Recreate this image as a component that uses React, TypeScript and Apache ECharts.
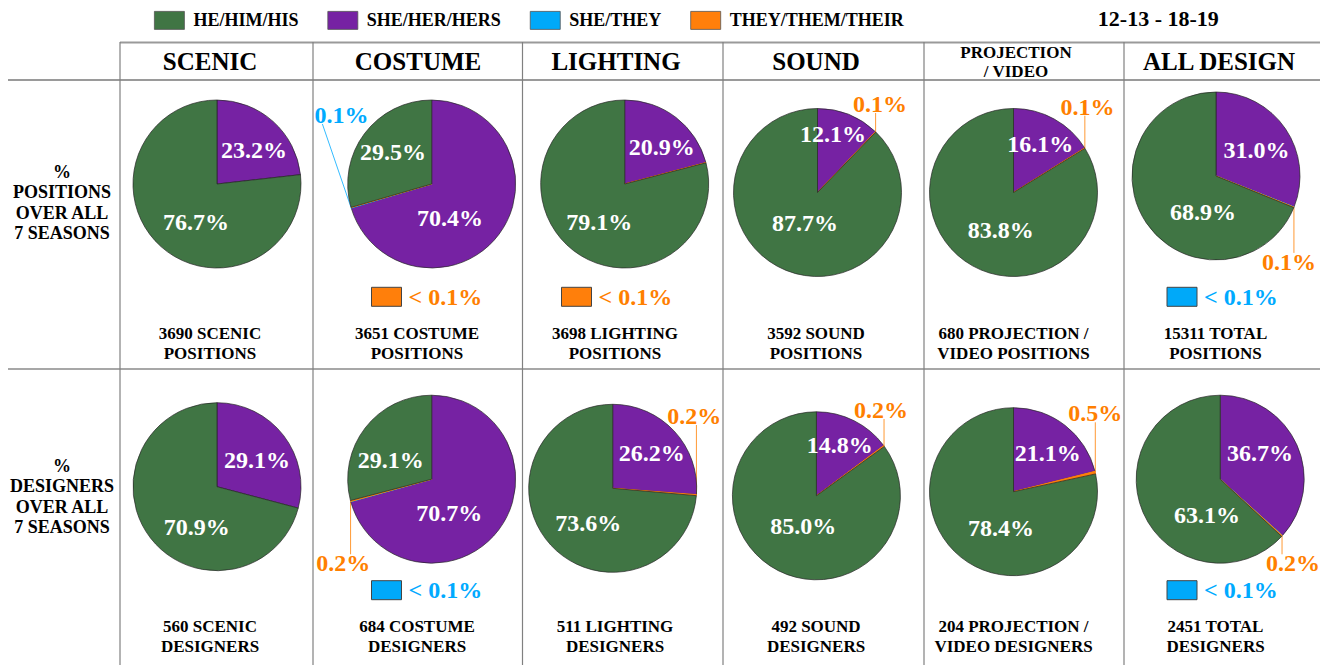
import React, { useEffect, useRef } from 'react';
import * as echarts from 'echarts';

// ---------- DATA ----------
const period = '12-13 - 18-19';
const columnTitles = ['SCENIC', 'COSTUME', 'LIGHTING', 'SOUND', 'PROJECTION\n/ VIDEO', 'ALL DESIGN'];
const rowTitles = ['%\nPOSITIONS\nOVER ALL\n7 SEASONS', '%\nDESIGNERS\nOVER ALL\n7 SEASONS'];
const legendNames = ['HE/HIM/HIS', 'SHE/HER/HERS', 'SHE/THEY', 'THEY/THEM/THEIR'];
// clockwise order of the slices, starting at 12 o'clock
const sliceOrder = ['SHE/HER/HERS', 'SHE/THEY', 'THEY/THEM/THEIR', 'HE/HIM/HIS'];

// % of positions over all 7 seasons (values below 0.1 are the "< 0.1%" shares)
const positionsShe = [23.2, 70.4, 20.9, 12.1, 16.1, 31.0];
const positionsSheThey = [0, 0.1, 0, 0, 0, 0.05];
const positionsThey = [0, 0.05, 0.05, 0.1, 0.1, 0.1];
const positionsHe = [76.7, 29.5, 79.1, 87.7, 83.8, 68.9];

// % of designers over all 7 seasons
const designersShe = [29.1, 70.7, 26.2, 14.8, 21.1, 36.7];
const designersSheThey = [0, 0.05, 0, 0, 0, 0.05];
const designersThey = [0, 0.2, 0.2, 0.2, 0.5, 0.2];
const designersHe = [70.9, 29.1, 73.6, 85.0, 78.4, 63.1];

const positionsCaptions = [
  '3690 SCENIC\nPOSITIONS',
  '3651 COSTUME\nPOSITIONS',
  '3698 LIGHTING\nPOSITIONS',
  '3592 SOUND\nPOSITIONS',
  '680 PROJECTION /\nVIDEO POSITIONS',
  '15311 TOTAL\nPOSITIONS',
];
const designersCaptions = [
  '560 SCENIC\nDESIGNERS',
  '684 COSTUME\nDESIGNERS',
  '511 LIGHTING\nDESIGNERS',
  '492 SOUND\nDESIGNERS',
  '204 PROJECTION /\nVIDEO DESIGNERS',
  '2451 TOTAL\nDESIGNERS',
];

// ---------- STYLE / LAYOUT ----------
const FONT = 'Liberation Serif, Times New Roman, serif';
const sliceColors: Record<string, string> = {
  'HE/HIM/HIS': '#407544',
  'SHE/HER/HERS': '#7622A3',
  'SHE/THEY': '#00A9F9',
  'THEY/THEM/THEIR': '#FF7F0B',
};
const smallLabelColors: Record<string, string> = {
  'SHE/THEY': '#00AAFF',
  'THEY/THEM/THEIR': '#FF7F00',
};
const pieRadius = 84;
const vLinesX = [120, 313, 522.5, 723, 924, 1124];
const headerX = [210, 418, 616, 816, 1016, 1219];
const captionX = [210, 417, 615, 816, 1013.5, 1215.5];
const noteBoxLeft = [160, 371, 561, 760, 955, 1166.5];

type Off = [number, number] | null;
const rows = [
  {
    values: [positionsShe, positionsSheThey, positionsThey, positionsHe],
    captions: positionsCaptions,
    titleY: 202.5,
    captionY: 343.7,
    noteTop: 287.3,
    centers: [[217, 184], [431.7, 184], [624.7, 184], [817.5, 192.5], [1013.5, 192.5], [1216, 176]],
    offsets: [
      [[37, -34], null, null, [-21, 38]],
      [[18.3, 34], [-90.2, -69], null, [-38.7, -32]],
      [[37, -37.3], null, null, [-25.4, 37.7]],
      [[15.5, -58.5], null, [62.5, -88.5], [-12.5, 30.8]],
      [[26.8, -48.2], null, [74, -85.8], [-12.7, 37.5]],
      [[40.4, -26], null, [73, 85.9], [-13, 35.7]],
    ] as Off[][],
  },
  {
    values: [designersShe, designersSheThey, designersThey, designersHe],
    captions: designersCaptions,
    titleY: 496.5,
    captionY: 636.3,
    noteTop: 580.7,
    centers: [[217, 486.7], [431.7, 479.2], [612.7, 488.3], [816.4, 495.8], [1013.5, 491.7], [1220.2, 479.2]],
    offsets: [
      [[40, -26.7], null, null, [-20.3, 40]],
      [[17.6, 34.1], null, [-88.4, 84.1], [-41, -19.2]],
      [[39, -35.6], null, [81.6, -72.3], [-24.4, 35]],
      [[23.3, -50.8], null, [64.6, -85.8], [-13.2, 29.9]],
      [[34.2, -39], null, [81.8, -78.4], [-12.5, 36.6]],
      [[39.8, -25.9], null, [72.8, 84.1], [-13.2, 35.8]],
    ] as Off[][],
  },
];

function buildOption() {
  const series: any[] = [];
  const legends: any[] = [
    {
      left: 154,
      top: 11,
      padding: 0,
      icon: 'rect',
      itemWidth: 30,
      itemHeight: 18,
      itemGap: 29,
      selectedMode: false,
      data: legendNames,
      itemStyle: { borderColor: '#555', borderWidth: 0.8 },
      textStyle: { fontFamily: FONT, fontSize: 18, fontWeight: 'bold', color: '#000', padding: [0, 0, 0, 4] },
    },
  ];

  rows.forEach((row) => {
    columnTitles.forEach((_, c) => {
      const vals = row.values.map((arr) => arr[c]);
      const [cx, cy] = row.centers[c];
      const offs = row.offsets[c];
      series.push({
        type: 'pie',
        radius: pieRadius,
        center: [cx, cy],
        startAngle: 90,
        clockwise: true,
        avoidLabelOverlap: false,
        silent: true,
        emphasis: { disabled: true, scale: false },
        itemStyle: { borderColor: '#262626', borderWidth: 0.7 },
        label: {
          show: true,
          position: 'inside',
          color: '#fff',
          fontFamily: FONT,
          fontSize: 24,
          fontWeight: 'bold',
          formatter: (p: any) => Number(p.value).toFixed(1) + '%',
        },
        labelLine: { show: false },
        data: sliceOrder.map((name, i) => {
          const v = vals[i];
          const big = i === 0 || i === 3;
          const showLabel = v >= 0.1;
          const itemStyle: any = { color: sliceColors[name] };
          if (!big) {
            itemStyle.borderColor = sliceColors[name];
            itemStyle.borderWidth = v > 0 ? 1 : 0;
          }
          return {
            name,
            value: v,
            itemStyle,
            label: big
              ? { show: showLabel }
              : { show: showLabel, position: 'outside', color: smallLabelColors[name] },
            labelLine: big
              ? { show: false }
              : {
                  show: showLabel,
                  length: 8,
                  length2: 0,
                  lineStyle: { color: smallLabelColors[name], width: 0.8 },
                },
          };
        }),
        labelLayout: (p: any) => {
          const off = offs[p.dataIndex];
          if (!off) return {};
          const x = cx + off[0];
          const y = cy + off[1];
          const out: any = { x, y, align: 'center', verticalAlign: 'middle' };
          const pts = p.labelLinePoints;
          if (pts && pts.length && p.dataIndex !== 0 && p.dataIndex !== 3) {
            const w = p.labelRect ? p.labelRect.width / 2 : 27;
            const h = 9;
            const e = pts[0];
            let ax = Math.min(Math.max(e[0], x - w), x + w);
            const ay = Math.min(Math.max(e[1], y - h), y + h);
            // if the straight leader would run through the pie, tilt it outward
            const mx = (e[0] + ax) / 2 - cx;
            const my = (e[1] + ay) / 2 - cy;
            if (Math.sqrt(mx * mx + my * my) < pieRadius) {
              const ex = e[0] - cx;
              const ey = e[1] - cy;
              const len = Math.sqrt(ex * ex + ey * ey) || 1;
              ax = Math.min(Math.max(e[0] + (ex / len) * 30, x - w), x + w);
            }
            out.labelLinePoints = [[e[0], e[1]], [ax, ay], [ax, ay]];
          }
          return out;
        },
      });

      // "< 0.1%" note for shares that are above zero but below 0.1
      sliceOrder.forEach((name, i) => {
        const v = vals[i];
        if (v > 0 && v < 0.1) {
          legends.push({
            left: noteBoxLeft[c],
            top: row.noteTop - 2.5,
            padding: 0,
            icon: 'rect',
            itemWidth: 30,
            itemHeight: 19,
            selectedMode: false,
            data: [name],
            formatter: () => '< 0.1%',
            itemStyle: { borderColor: '#444', borderWidth: 1 },
            textStyle: {
              fontFamily: FONT,
              fontSize: 24,
              fontWeight: 'bold',
              color: smallLabelColors[name],
              padding: [0, 0, 0, 2],
            },
          });
        }
      });
    });
  });

  const elements: any[] = [];
  // table lines
  elements.push({ type: 'line', shape: { x1: 120, y1: 42.5, x2: 1320, y2: 42.5 }, style: { stroke: '#9a9a9a', lineWidth: 2 } });
  elements.push({ type: 'line', shape: { x1: 8, y1: 80, x2: 1320, y2: 80 }, style: { stroke: '#9a9a9a', lineWidth: 2 } });
  elements.push({ type: 'line', shape: { x1: 8, y1: 369, x2: 1320, y2: 369 }, style: { stroke: '#8a8a8a', lineWidth: 1.5 } });
  vLinesX.forEach((x) => {
    elements.push({ type: 'line', shape: { x1: x, y1: 42, x2: x, y2: 665 }, style: { stroke: '#808080', lineWidth: 1.2 } });
  });

  const txt = (text: string, x: number, y: number, size: number, lineHeight?: number, fill = '#000') => ({
    type: 'text',
    x,
    y,
    style: {
      text,
      fill,
      fontFamily: FONT,
      fontSize: size,
      fontWeight: 'bold',
      textAlign: 'center',
      textVerticalAlign: 'middle',
      lineHeight: lineHeight || size,
    },
  });

  elements.push(txt(period, 1158.3, 18.5, 22));
  columnTitles.forEach((t, c) => {
    if (t.indexOf('\n') >= 0) elements.push(txt(t, headerX[c], 61.5, 17, 19));
    else elements.push(txt(t, headerX[c], 61.5, 25));
  });
  rows.forEach((row, r) => {
    elements.push(txt(rowTitles[r], 62, row.titleY, 18, 20.5));
    row.captions.forEach((t, c) => elements.push(txt(t, captionX[c], row.captionY, 17, 19.5)));
  });

  return {
    animation: false,
    backgroundColor: '#fff',
    textStyle: { fontFamily: FONT },
    legend: legends,
    graphic: { elements },
    series,
  };
}

export default function App() {
  const ref = useRef<HTMLDivElement>(null);
  useEffect(() => {
    if (!ref.current) return;
    const chart = echarts.init(ref.current, undefined, { renderer: 'svg' });
    chart.setOption(buildOption() as any);
    return () => chart.dispose();
  }, []);
  return <div ref={ref} style={{ position: 'absolute', left: 0, top: 0, width: 1320, height: 665 }} />;
}
